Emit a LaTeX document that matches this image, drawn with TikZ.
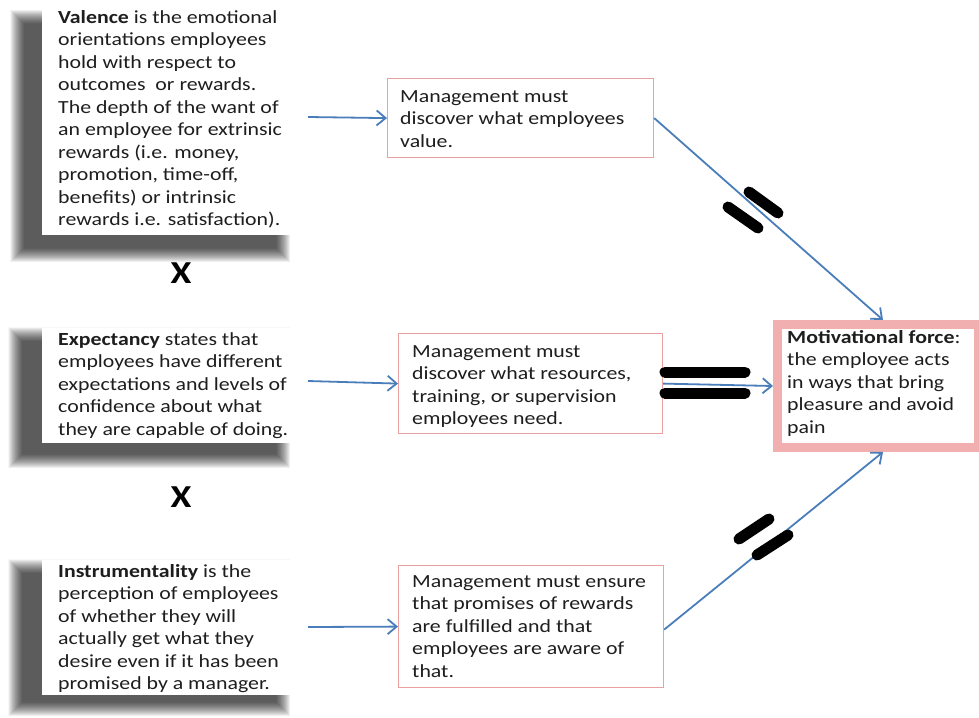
\documentclass[tikz,border=0pt]{standalone}
\usepackage{fontspec}
\setmainfont{Carlito}[FakeStretch=1.18]
\usetikzlibrary{arrows.meta,calc}
\definecolor{arrowblue}{RGB}{74,126,187}
\definecolor{boxpink}{RGB}{232,160,160}
\definecolor{motpink}{RGB}{242,175,175}
\definecolor{txt}{RGB}{30,30,30}
\newcommand{\myshadow}[4]{%
  \foreach \r in {0,0.5,...,14}{\fill[black,opacity=0.03] (#1-\r,#2-\r) rectangle (#3+\r,#4+\r);}}
\begin{document}
\begin{tikzpicture}[x=1pt,y=-1pt,
  bodytext/.style={align=left,inner sep=0pt,anchor=north west,text=txt,
     font={\fontsize{18.5}{22.5}\selectfont}},
  leftbox/.style={fill=white,draw=none,inner sep=0pt,anchor=north west},
  midbox/.style={draw=boxpink,line width=1.2pt,fill=white,inner sep=0pt,anchor=north west},
  arr/.style={draw=arrowblue,line width=1.8pt,-{Straight Barb[length=9pt,width=15pt]}},
  eqbar/.style={line width=11pt,line cap=round,black},
  xmark/.style={text=black,font={\fontsize{32}{34}\selectfont\bfseries}}
]
\useasboundingbox (0,0) rectangle (979,717);
\fill[white] (0,0) rectangle (979,717);

% shadows
\myshadow{24}{24}{276}{248}
\myshadow{22}{341}{276}{454}
\myshadow{22}{573}{276}{702}

% left boxes
\node[leftbox,minimum width=250pt,minimum height=240pt] (vbox) at (42,-5) {};
\node[leftbox,minimum width=250pt,minimum height=115pt] (ebox) at (42,328) {};
\node[leftbox,minimum width=250pt,minimum height=135pt] (ibox) at (42,560) {};

\node[bodytext] (vtext) at (58,9) {\rule{0pt}{14pt}\textbf{Valence} is the emotional\\
orientations employees\\ hold with respect to\\ outcomes\ \ or rewards.\\
The depth of the want of\\ an employee for extrinsic\\ rewards (i.e. money,\\
promotion, time-off,\\ benefits) or intrinsic\\ rewards i.e. satisfaction).};
\node[bodytext] (etext) at (58,331) {\rule{0pt}{14pt}\textbf{Expectancy} states that\\
employees have different\\ expectations and levels of\\ confidence about what\\
they are capable of doing.};
\node[bodytext] (itext) at (58,563) {\rule{0pt}{14pt}\textbf{Instrumentality} is the\\
perception of employees\\ of whether they will\\ actually get what they\\
desire even if it has been\\ promised by a manager.};

\node[xmark] (x1) at (181,273) {X};
\node[xmark] (x2) at (181,497) {X};

% middle boxes
\node[midbox,minimum width=266pt,minimum height=79pt] (m1) at (387,78) {};
\node[midbox,minimum width=264pt,minimum height=100pt] (m2) at (398,333) {};
\node[midbox,minimum width=265pt,minimum height=122pt] (m3) at (398,565) {};

\node[bodytext] (m1t) at (400,88) {\rule{0pt}{14pt}Management must\\ discover what employees\\ value.};
\node[bodytext] (m2t) at (412,343) {\rule{0pt}{14pt}Management must\\ discover what resources,\\ training, or supervision\\ employees need.};
\node[bodytext] (m3t) at (412,573) {\rule{0pt}{14pt}Management must ensure\\ that promises of rewards\\ are fulfilled and that\\ employees are aware of\\ that.};

% motivational force box
\node[draw=motpink,line width=9pt,fill=white,inner sep=0pt,anchor=north west,
      minimum width=201pt,minimum height=123pt] (mot) at (773,320) {};
\node[bodytext] (mott) at (787,329) {\rule{0pt}{14pt}\textbf{Motivational force}:\\ the employee acts\\ in ways that bring\\ pleasure and avoid\\ pain};

% arrow start points
\coordinate (vs) at (308,117);
\coordinate (es) at (308,381);
\coordinate (is) at (308,627);

\draw[arr] (vs) -- (m1.west);
\draw[arr] (es) -- (m2.west);
\draw[arr] (is) -- (m3.west);
\draw[arr] (m1.east) -- ([xshift=5pt]mot.north);
\draw[arr] (m2.east) -- (mot.west);
\draw[arr] ([yshift=-3pt]m3.east) -- ([xshift=5pt]mot.south);

% equal signs
\draw[eqbar] (665,372) -- (745,372);
\draw[eqbar] (665,393) -- (745,393);
\draw[eqbar] (728,207) -- (758,228);
\draw[eqbar] (749,192) -- (778,213);
\draw[eqbar] (739,539) -- (769,519);
\draw[eqbar] (757,555) -- (788,535);
\end{tikzpicture}
\end{document}
